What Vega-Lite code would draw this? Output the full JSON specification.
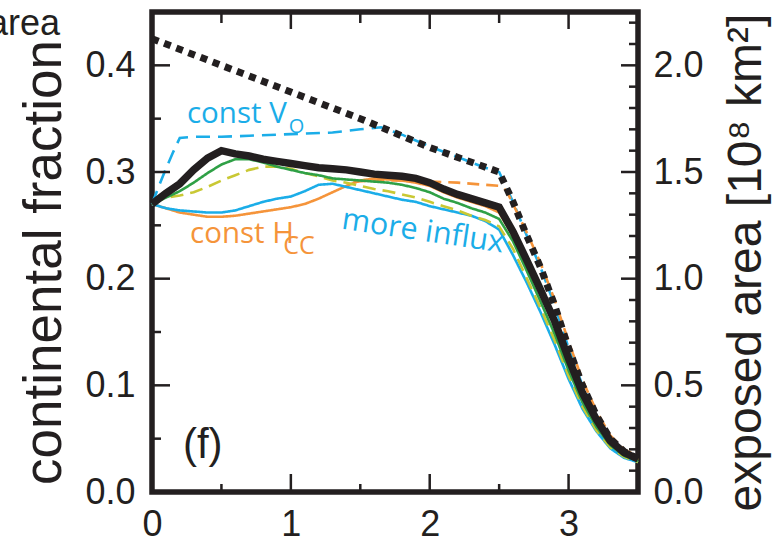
{
  "$schema": "https://vega.github.io/schema/vega-lite/v6.json",
  "width": 486,
  "height": 480,
  "autosize": {"type": "none"},
  "padding": {"left": 152, "top": 12, "right": 143, "bottom": 50},
  "background": "white",
  "config": {
    "view": {"stroke": "#231f20", "strokeWidth": 5.5},
    "axis": {
      "domain": false,
      "grid": false,
      "ticks": false,
      "labelFont": "Liberation Sans",
      "labelFontSize": 36,
      "labelColor": "#231f20",
      "labelFlush": false,
      "labelOverlap": false,
      "titleFont": "Liberation Sans",
      "titleFontWeight": "normal",
      "titleColor": "#231f20"
    }
  },
  "datasets": {
    "lines": [
      {"series": "const Vo", "x": 0, "f": 0.270}, {"series": "const Vo", "x": 0.05, "f": 0.287}, {"series": "const Vo", "x": 0.1, "f": 0.303}, {"series": "const Vo", "x": 0.15, "f": 0.318}, {"series": "const Vo", "x": 0.2, "f": 0.332}, {"series": "const Vo", "x": 0.3, "f": 0.333}, {"series": "const Vo", "x": 0.5, "f": 0.333}, {"series": "const Vo", "x": 0.7, "f": 0.334}, {"series": "const Vo", "x": 0.9, "f": 0.335}, {"series": "const Vo", "x": 1.1, "f": 0.336}, {"series": "const Vo", "x": 1.3, "f": 0.337}, {"series": "const Vo", "x": 1.5, "f": 0.340}, {"series": "const Vo", "x": 1.65, "f": 0.342}, {"series": "const Vo", "x": 1.8, "f": 0.335}, {"series": "const Vo", "x": 2.0, "f": 0.324}, {"series": "const Vo", "x": 2.2, "f": 0.314}, {"series": "const Vo", "x": 2.4, "f": 0.304}, {"series": "const Vo", "x": 2.5, "f": 0.300}, {"series": "const Vo", "x": 2.6, "f": 0.272}, {"series": "const Vo", "x": 2.7, "f": 0.240}, {"series": "const Vo", "x": 2.8, "f": 0.210}, {"series": "const Vo", "x": 2.9, "f": 0.175}, {"series": "const Vo", "x": 3.0, "f": 0.135}, {"series": "const Vo", "x": 3.1, "f": 0.100}, {"series": "const Vo", "x": 3.2, "f": 0.072}, {"series": "const Vo", "x": 3.3, "f": 0.050}, {"series": "const Vo", "x": 3.4, "f": 0.038}, {"series": "const Vo", "x": 3.5, "f": 0.031},

      {"series": "orange dashed", "x": 1.45, "f": 0.291}, {"series": "orange dashed", "x": 1.6, "f": 0.292}, {"series": "orange dashed", "x": 1.8, "f": 0.292}, {"series": "orange dashed", "x": 2.0, "f": 0.291}, {"series": "orange dashed", "x": 2.2, "f": 0.290}, {"series": "orange dashed", "x": 2.4, "f": 0.288}, {"series": "orange dashed", "x": 2.5, "f": 0.287}, {"series": "orange dashed", "x": 2.55, "f": 0.283}, {"series": "orange dashed", "x": 2.6, "f": 0.270}, {"series": "orange dashed", "x": 2.7, "f": 0.243}, {"series": "orange dashed", "x": 2.8, "f": 0.214}, {"series": "orange dashed", "x": 2.9, "f": 0.180}, {"series": "orange dashed", "x": 3.0, "f": 0.141}, {"series": "orange dashed", "x": 3.1, "f": 0.105}, {"series": "orange dashed", "x": 3.2, "f": 0.076}, {"series": "orange dashed", "x": 3.3, "f": 0.053}, {"series": "orange dashed", "x": 3.4, "f": 0.040}, {"series": "orange dashed", "x": 3.5, "f": 0.033},

      {"series": "const Hcc", "x": 0, "f": 0.270}, {"series": "const Hcc", "x": 0.1, "f": 0.266}, {"series": "const Hcc", "x": 0.2, "f": 0.262}, {"series": "const Hcc", "x": 0.3, "f": 0.260}, {"series": "const Hcc", "x": 0.4, "f": 0.258}, {"series": "const Hcc", "x": 0.5, "f": 0.258}, {"series": "const Hcc", "x": 0.6, "f": 0.259}, {"series": "const Hcc", "x": 0.7, "f": 0.261}, {"series": "const Hcc", "x": 0.8, "f": 0.263}, {"series": "const Hcc", "x": 0.9, "f": 0.265}, {"series": "const Hcc", "x": 1.0, "f": 0.267}, {"series": "const Hcc", "x": 1.1, "f": 0.270}, {"series": "const Hcc", "x": 1.2, "f": 0.275}, {"series": "const Hcc", "x": 1.3, "f": 0.281}, {"series": "const Hcc", "x": 1.4, "f": 0.287}, {"series": "const Hcc", "x": 1.5, "f": 0.292}, {"series": "const Hcc", "x": 1.6, "f": 0.294}, {"series": "const Hcc", "x": 1.7, "f": 0.293}, {"series": "const Hcc", "x": 1.8, "f": 0.292}, {"series": "const Hcc", "x": 1.9, "f": 0.290}, {"series": "const Hcc", "x": 2.0, "f": 0.287}, {"series": "const Hcc", "x": 2.1, "f": 0.281}, {"series": "const Hcc", "x": 2.2, "f": 0.276}, {"series": "const Hcc", "x": 2.3, "f": 0.272}, {"series": "const Hcc", "x": 2.4, "f": 0.268}, {"series": "const Hcc", "x": 2.5, "f": 0.262}, {"series": "const Hcc", "x": 2.6, "f": 0.240}, {"series": "const Hcc", "x": 2.7, "f": 0.213}, {"series": "const Hcc", "x": 2.8, "f": 0.185}, {"series": "const Hcc", "x": 2.9, "f": 0.156}, {"series": "const Hcc", "x": 3.0, "f": 0.121}, {"series": "const Hcc", "x": 3.1, "f": 0.090}, {"series": "const Hcc", "x": 3.2, "f": 0.065}, {"series": "const Hcc", "x": 3.3, "f": 0.046}, {"series": "const Hcc", "x": 3.4, "f": 0.036}, {"series": "const Hcc", "x": 3.5, "f": 0.030},

      {"series": "more influx", "x": 0, "f": 0.270}, {"series": "more influx", "x": 0.1, "f": 0.266}, {"series": "more influx", "x": 0.2, "f": 0.264}, {"series": "more influx", "x": 0.3, "f": 0.263}, {"series": "more influx", "x": 0.4, "f": 0.262}, {"series": "more influx", "x": 0.5, "f": 0.262}, {"series": "more influx", "x": 0.6, "f": 0.264}, {"series": "more influx", "x": 0.7, "f": 0.268}, {"series": "more influx", "x": 0.8, "f": 0.272}, {"series": "more influx", "x": 0.9, "f": 0.275}, {"series": "more influx", "x": 1.0, "f": 0.277}, {"series": "more influx", "x": 1.1, "f": 0.282}, {"series": "more influx", "x": 1.2, "f": 0.288}, {"series": "more influx", "x": 1.3, "f": 0.289}, {"series": "more influx", "x": 1.4, "f": 0.286}, {"series": "more influx", "x": 1.5, "f": 0.283}, {"series": "more influx", "x": 1.6, "f": 0.280}, {"series": "more influx", "x": 1.7, "f": 0.277}, {"series": "more influx", "x": 1.8, "f": 0.274}, {"series": "more influx", "x": 1.9, "f": 0.272}, {"series": "more influx", "x": 2.0, "f": 0.268}, {"series": "more influx", "x": 2.1, "f": 0.265}, {"series": "more influx", "x": 2.2, "f": 0.262}, {"series": "more influx", "x": 2.3, "f": 0.259}, {"series": "more influx", "x": 2.4, "f": 0.254}, {"series": "more influx", "x": 2.5, "f": 0.246}, {"series": "more influx", "x": 2.6, "f": 0.222}, {"series": "more influx", "x": 2.7, "f": 0.196}, {"series": "more influx", "x": 2.8, "f": 0.168}, {"series": "more influx", "x": 2.9, "f": 0.138}, {"series": "more influx", "x": 3.0, "f": 0.106}, {"series": "more influx", "x": 3.1, "f": 0.078}, {"series": "more influx", "x": 3.2, "f": 0.057}, {"series": "more influx", "x": 3.3, "f": 0.041}, {"series": "more influx", "x": 3.4, "f": 0.032}, {"series": "more influx", "x": 3.5, "f": 0.028},

      {"series": "yellow dashed", "x": 0, "f": 0.270}, {"series": "yellow dashed", "x": 0.1, "f": 0.276}, {"series": "yellow dashed", "x": 0.2, "f": 0.278}, {"series": "yellow dashed", "x": 0.3, "f": 0.281}, {"series": "yellow dashed", "x": 0.4, "f": 0.286}, {"series": "yellow dashed", "x": 0.5, "f": 0.292}, {"series": "yellow dashed", "x": 0.6, "f": 0.297}, {"series": "yellow dashed", "x": 0.7, "f": 0.302}, {"series": "yellow dashed", "x": 0.8, "f": 0.305}, {"series": "yellow dashed", "x": 0.9, "f": 0.305}, {"series": "yellow dashed", "x": 1.0, "f": 0.303}, {"series": "yellow dashed", "x": 1.1, "f": 0.299}, {"series": "yellow dashed", "x": 1.2, "f": 0.296}, {"series": "yellow dashed", "x": 1.3, "f": 0.292}, {"series": "yellow dashed", "x": 1.4, "f": 0.290}, {"series": "yellow dashed", "x": 1.5, "f": 0.287}, {"series": "yellow dashed", "x": 1.6, "f": 0.284}, {"series": "yellow dashed", "x": 1.7, "f": 0.282}, {"series": "yellow dashed", "x": 1.8, "f": 0.279}, {"series": "yellow dashed", "x": 1.9, "f": 0.276}, {"series": "yellow dashed", "x": 2.0, "f": 0.272}, {"series": "yellow dashed", "x": 2.1, "f": 0.268}, {"series": "yellow dashed", "x": 2.2, "f": 0.264}, {"series": "yellow dashed", "x": 2.3, "f": 0.259}, {"series": "yellow dashed", "x": 2.4, "f": 0.255}, {"series": "yellow dashed", "x": 2.5, "f": 0.249}, {"series": "yellow dashed", "x": 2.6, "f": 0.228}, {"series": "yellow dashed", "x": 2.7, "f": 0.200}, {"series": "yellow dashed", "x": 2.8, "f": 0.172}, {"series": "yellow dashed", "x": 2.9, "f": 0.142}, {"series": "yellow dashed", "x": 3.0, "f": 0.109}, {"series": "yellow dashed", "x": 3.1, "f": 0.080}, {"series": "yellow dashed", "x": 3.2, "f": 0.058}, {"series": "yellow dashed", "x": 3.3, "f": 0.042}, {"series": "yellow dashed", "x": 3.4, "f": 0.033}, {"series": "yellow dashed", "x": 3.5, "f": 0.028},

      {"series": "green", "x": 0, "f": 0.270}, {"series": "green", "x": 0.1, "f": 0.276}, {"series": "green", "x": 0.2, "f": 0.282}, {"series": "green", "x": 0.3, "f": 0.290}, {"series": "green", "x": 0.4, "f": 0.299}, {"series": "green", "x": 0.5, "f": 0.307}, {"series": "green", "x": 0.6, "f": 0.312}, {"series": "green", "x": 0.7, "f": 0.312}, {"series": "green", "x": 0.8, "f": 0.309}, {"series": "green", "x": 0.9, "f": 0.305}, {"series": "green", "x": 1.0, "f": 0.302}, {"series": "green", "x": 1.1, "f": 0.299}, {"series": "green", "x": 1.2, "f": 0.297}, {"series": "green", "x": 1.3, "f": 0.294}, {"series": "green", "x": 1.4, "f": 0.293}, {"series": "green", "x": 1.5, "f": 0.292}, {"series": "green", "x": 1.6, "f": 0.291}, {"series": "green", "x": 1.7, "f": 0.290}, {"series": "green", "x": 1.8, "f": 0.288}, {"series": "green", "x": 1.9, "f": 0.285}, {"series": "green", "x": 2.0, "f": 0.281}, {"series": "green", "x": 2.1, "f": 0.275}, {"series": "green", "x": 2.2, "f": 0.271}, {"series": "green", "x": 2.3, "f": 0.266}, {"series": "green", "x": 2.4, "f": 0.262}, {"series": "green", "x": 2.5, "f": 0.256}, {"series": "green", "x": 2.6, "f": 0.235}, {"series": "green", "x": 2.7, "f": 0.207}, {"series": "green", "x": 2.8, "f": 0.178}, {"series": "green", "x": 2.9, "f": 0.148}, {"series": "green", "x": 3.0, "f": 0.114}, {"series": "green", "x": 3.1, "f": 0.084}, {"series": "green", "x": 3.2, "f": 0.061}, {"series": "green", "x": 3.3, "f": 0.044}, {"series": "green", "x": 3.4, "f": 0.034}, {"series": "green", "x": 3.5, "f": 0.029}
    ],
    "baseline": [
      {"x": 0, "f": 0.270}, {"x": 0.1, "f": 0.280}, {"x": 0.2, "f": 0.289}, {"x": 0.3, "f": 0.302}, {"x": 0.4, "f": 0.313}, {"x": 0.5, "f": 0.320}, {"x": 0.6, "f": 0.317}, {"x": 0.7, "f": 0.315}, {"x": 0.8, "f": 0.312}, {"x": 0.9, "f": 0.310}, {"x": 1.0, "f": 0.308}, {"x": 1.1, "f": 0.306}, {"x": 1.2, "f": 0.304}, {"x": 1.3, "f": 0.303}, {"x": 1.4, "f": 0.302}, {"x": 1.5, "f": 0.300}, {"x": 1.6, "f": 0.298}, {"x": 1.7, "f": 0.297}, {"x": 1.8, "f": 0.296}, {"x": 1.9, "f": 0.294}, {"x": 2.0, "f": 0.290}, {"x": 2.1, "f": 0.284}, {"x": 2.2, "f": 0.279}, {"x": 2.3, "f": 0.275}, {"x": 2.4, "f": 0.271}, {"x": 2.5, "f": 0.267}, {"x": 2.6, "f": 0.244}, {"x": 2.7, "f": 0.217}, {"x": 2.8, "f": 0.189}, {"x": 2.9, "f": 0.160}, {"x": 3.0, "f": 0.125}, {"x": 3.1, "f": 0.093}, {"x": 3.2, "f": 0.068}, {"x": 3.3, "f": 0.048}, {"x": 3.4, "f": 0.037}, {"x": 3.5, "f": 0.031}
    ],
    "area": [
      {"x": 0, "area": 2.125}, {"x": 0.5, "area": 2.0}, {"x": 1.0, "area": 1.875}, {"x": 1.5, "area": 1.75}, {"x": 2.0, "area": 1.615}, {"x": 2.5, "area": 1.5}, {"x": 2.6, "area": 1.36}, {"x": 2.7, "area": 1.2}, {"x": 2.8, "area": 1.05}, {"x": 2.9, "area": 0.875}, {"x": 3.0, "area": 0.675}, {"x": 3.1, "area": 0.5}, {"x": 3.2, "area": 0.36}, {"x": 3.3, "area": 0.25}, {"x": 3.4, "area": 0.19}, {"x": 3.5, "area": 0.155}
    ]
  },
  "resolve": {
    "scale": {"x": "independent", "y": "independent"},
    "axis": {"x": "independent", "y": "independent"}
  },
  "layer": [
    {
      "data": {"name": "lines"},
      "mark": {"type": "line", "strokeWidth": 2.6, "strokeCap": "butt"},
      "encoding": {
        "x": {"field": "x", "type": "quantitative", "scale": {"domain": [0, 3.5], "nice": false, "zero": false},
          "axis": {"orient": "bottom", "values": [0, 1, 2, 3], "labelPadding": 15, "format": "d", "title": null}},
        "y": {"field": "f", "type": "quantitative", "scale": {"domain": [0, 0.45], "nice": false},
          "axis": {"orient": "left", "values": [0, 0.1, 0.2, 0.3, 0.4], "labelPadding": 17, "format": ".1f",
            "title": "continental fraction", "titleAngle": 270, "titleX": -92, "titleY": 250, "titleBaseline": "alphabetic", "titleAlign": "center", "titleFontSize": 53}},
        "color": {"field": "series", "type": "nominal", "legend": null,
          "scale": {"domain": ["const Vo", "orange dashed", "const Hcc", "more influx", "yellow dashed", "green"],
            "range": ["#1badE8", "#F5943A", "#F5943A", "#1badE8", "#C9C834", "#2FA046"]}},
        "strokeDash": {"field": "series", "type": "nominal", "legend": null,
          "scale": {"domain": ["const Vo", "orange dashed", "const Hcc", "more influx", "yellow dashed", "green"],
            "range": [[14, 8], [12, 7], [1, 0], [1, 0], [13, 7], [1, 0]]}}
      }
    },
    {
      "data": {"name": "baseline"},
      "mark": {"type": "line", "strokeWidth": 7.5, "color": "#231f20"},
      "encoding": {
        "x": {"field": "x", "type": "quantitative", "scale": {"domain": [0, 3.5], "nice": false, "zero": false}, "axis": null},
        "y": {"field": "f", "type": "quantitative", "scale": {"domain": [0, 0.45], "nice": false}, "axis": null}
      }
    },
    {
      "data": {"name": "area"},
      "mark": {"type": "line", "strokeWidth": 7, "strokeDash": [7, 6], "strokeCap": "butt", "color": "#231f20"},
      "encoding": {
        "x": {"field": "x", "type": "quantitative", "scale": {"domain": [0, 3.5], "nice": false, "zero": false}, "axis": null},
        "y": {"field": "area", "type": "quantitative", "scale": {"domain": [0, 2.25], "nice": false},
          "axis": {"orient": "right", "values": [0, 0.5, 1, 1.5, 2], "labelPadding": 15, "format": ".1f",
            "title": "exposed area [10⁸ km²]", "titleAngle": 270, "titleX": 122, "titleY": 250, "titleBaseline": "alphabetic", "titleAlign": "center", "titleFontSize": 48}}
      }
    },
    {
      "data": {"values": [{"v": 0.1, "end": 0}, {"v": 0.1, "end": 1}, {"v": 0.2, "end": 0}, {"v": 0.2, "end": 1}, {"v": 0.3, "end": 0}, {"v": 0.3, "end": 1}, {"v": 0.4, "end": 0}, {"v": 0.4, "end": 1}]},
      "mark": {"type": "line", "strokeWidth": 2.5, "color": "#231f20", "strokeCap": "butt"},
      "encoding": {
        "x": {"field": "end", "type": "quantitative", "scale": {"domain": [0, 1], "range": [0, 18], "nice": false, "zero": false}, "axis": null},
        "y": {"field": "v", "type": "quantitative", "scale": {"domain": [0, 0.45], "nice": false}, "axis": null},
        "detail": {"field": "v", "type": "nominal"}
      }
    },
    {
      "data": {"values": [{"v": 0.05, "end": 0}, {"v": 0.05, "end": 1}, {"v": 0.15, "end": 0}, {"v": 0.15, "end": 1}, {"v": 0.25, "end": 0}, {"v": 0.25, "end": 1}, {"v": 0.35, "end": 0}, {"v": 0.35, "end": 1}]},
      "mark": {"type": "line", "strokeWidth": 2.5, "color": "#231f20", "strokeCap": "butt"},
      "encoding": {
        "x": {"field": "end", "type": "quantitative", "scale": {"domain": [0, 1], "range": [0, 9], "nice": false, "zero": false}, "axis": null},
        "y": {"field": "v", "type": "quantitative", "scale": {"domain": [0, 0.45], "nice": false}, "axis": null},
        "detail": {"field": "v", "type": "nominal"}
      }
    },
    {
      "data": {"values": [{"v": 0.5, "end": 0}, {"v": 0.5, "end": 1}, {"v": 1.0, "end": 0}, {"v": 1.0, "end": 1}, {"v": 1.5, "end": 0}, {"v": 1.5, "end": 1}, {"v": 2.0, "end": 0}, {"v": 2.0, "end": 1}]},
      "mark": {"type": "line", "strokeWidth": 2.5, "color": "#231f20", "strokeCap": "butt"},
      "encoding": {
        "x": {"field": "end", "type": "quantitative", "scale": {"domain": [0, 1], "range": [486, 469], "nice": false, "zero": false}, "axis": null},
        "y": {"field": "v", "type": "quantitative", "scale": {"domain": [0, 2.25], "nice": false}, "axis": null},
        "detail": {"field": "v", "type": "nominal"}
      }
    },
    {
      "data": {"values": [
        {"v": 0.1, "end": 0}, {"v": 0.1, "end": 1}, {"v": 0.2, "end": 0}, {"v": 0.2, "end": 1}, {"v": 0.3, "end": 0}, {"v": 0.3, "end": 1}, {"v": 0.4, "end": 0}, {"v": 0.4, "end": 1},
        {"v": 0.6, "end": 0}, {"v": 0.6, "end": 1}, {"v": 0.7, "end": 0}, {"v": 0.7, "end": 1}, {"v": 0.8, "end": 0}, {"v": 0.8, "end": 1}, {"v": 0.9, "end": 0}, {"v": 0.9, "end": 1},
        {"v": 1.1, "end": 0}, {"v": 1.1, "end": 1}, {"v": 1.2, "end": 0}, {"v": 1.2, "end": 1}, {"v": 1.3, "end": 0}, {"v": 1.3, "end": 1}, {"v": 1.4, "end": 0}, {"v": 1.4, "end": 1},
        {"v": 1.6, "end": 0}, {"v": 1.6, "end": 1}, {"v": 1.7, "end": 0}, {"v": 1.7, "end": 1}, {"v": 1.8, "end": 0}, {"v": 1.8, "end": 1}, {"v": 1.9, "end": 0}, {"v": 1.9, "end": 1},
        {"v": 2.1, "end": 0}, {"v": 2.1, "end": 1}, {"v": 2.2, "end": 0}, {"v": 2.2, "end": 1}
      ]},
      "mark": {"type": "line", "strokeWidth": 2.5, "color": "#231f20", "strokeCap": "butt"},
      "encoding": {
        "x": {"field": "end", "type": "quantitative", "scale": {"domain": [0, 1], "range": [486, 477], "nice": false, "zero": false}, "axis": null},
        "y": {"field": "v", "type": "quantitative", "scale": {"domain": [0, 2.25], "nice": false}, "axis": null},
        "detail": {"field": "v", "type": "nominal"}
      }
    },
    {
      "data": {"values": [{"v": 1, "end": 0}, {"v": 1, "end": 1}, {"v": 2, "end": 0}, {"v": 2, "end": 1}, {"v": 3, "end": 0}, {"v": 3, "end": 1}]},
      "mark": {"type": "line", "strokeWidth": 2.5, "color": "#231f20", "strokeCap": "butt"},
      "encoding": {
        "x": {"field": "v", "type": "quantitative", "scale": {"domain": [0, 3.5], "nice": false, "zero": false}, "axis": null},
        "y": {"field": "end", "type": "quantitative", "scale": {"domain": [0, 1], "range": [480, 462], "nice": false, "zero": false}, "axis": null},
        "detail": {"field": "v", "type": "nominal"}
      }
    },
    {
      "data": {"values": [{"v": 0.5, "end": 0}, {"v": 0.5, "end": 1}, {"v": 1.5, "end": 0}, {"v": 1.5, "end": 1}, {"v": 2.5, "end": 0}, {"v": 2.5, "end": 1}]},
      "mark": {"type": "line", "strokeWidth": 2.5, "color": "#231f20", "strokeCap": "butt"},
      "encoding": {
        "x": {"field": "v", "type": "quantitative", "scale": {"domain": [0, 3.5], "nice": false, "zero": false}, "axis": null},
        "y": {"field": "end", "type": "quantitative", "scale": {"domain": [0, 1], "range": [480, 472], "nice": false, "zero": false}, "axis": null},
        "detail": {"field": "v", "type": "nominal"}
      }
    },
    {
      "data": {"values": [{"v": 1, "end": 0}, {"v": 1, "end": 1}, {"v": 2, "end": 0}, {"v": 2, "end": 1}, {"v": 3, "end": 0}, {"v": 3, "end": 1}]},
      "mark": {"type": "line", "strokeWidth": 2.5, "color": "#231f20", "strokeCap": "butt"},
      "encoding": {
        "x": {"field": "v", "type": "quantitative", "scale": {"domain": [0, 3.5], "nice": false, "zero": false}, "axis": null},
        "y": {"field": "end", "type": "quantitative", "scale": {"domain": [0, 1], "range": [0, 17], "nice": false, "zero": false}, "axis": null},
        "detail": {"field": "v", "type": "nominal"}
      }
    },
    {
      "data": {"values": [{"v": 0.5, "end": 0}, {"v": 0.5, "end": 1}, {"v": 1.5, "end": 0}, {"v": 1.5, "end": 1}, {"v": 2.5, "end": 0}, {"v": 2.5, "end": 1}]},
      "mark": {"type": "line", "strokeWidth": 2.5, "color": "#231f20", "strokeCap": "butt"},
      "encoding": {
        "x": {"field": "v", "type": "quantitative", "scale": {"domain": [0, 3.5], "nice": false, "zero": false}, "axis": null},
        "y": {"field": "end", "type": "quantitative", "scale": {"domain": [0, 1], "range": [0, 11], "nice": false, "zero": false}, "axis": null},
        "detail": {"field": "v", "type": "nominal"}
      }
    },
    {
      "encoding": {
        "x": {"field": "x", "type": "quantitative", "scale": {"domain": [0, 3.5], "nice": false, "zero": false}, "axis": null},
        "y": {"field": "f", "type": "quantitative", "scale": {"domain": [0, 0.45], "nice": false}, "axis": null},
        "text": {"field": "label"}
      },
      "layer": [
        {"data": {"values": [{"label": "const V", "x": 0.252, "f": 0.346}]},
          "mark": {"type": "text", "align": "left", "baseline": "alphabetic", "font": "Open Sans", "fontSize": 29.5, "color": "#1badE8", "clip": false}},
        {"data": {"values": [{"label": "O", "x": 0.985, "f": 0.3366}]},
          "mark": {"type": "text", "align": "left", "baseline": "alphabetic", "font": "Open Sans", "fontSize": 20, "color": "#1badE8", "clip": false}},
        {"data": {"values": [{"label": "const H", "x": 0.274, "f": 0.2337}]},
          "mark": {"type": "text", "align": "left", "baseline": "alphabetic", "font": "Open Sans", "fontSize": 29.5, "color": "#F5943A", "clip": false}},
        {"data": {"values": [{"label": "CC", "x": 0.945, "f": 0.223}]},
          "mark": {"type": "text", "align": "left", "baseline": "alphabetic", "font": "Open Sans", "fontSize": 25, "color": "#F5943A", "clip": false}},
        {"data": {"values": [{"label": "more influx", "x": 1.36, "f": 0.247}]},
          "mark": {"type": "text", "align": "left", "baseline": "alphabetic", "font": "Open Sans", "fontSize": 30.5, "angle": 8.5, "color": "#1badE8", "clip": false}},
        {"data": {"values": [{"label": "(f)", "x": 0.223, "f": 0.032}]},
          "mark": {"type": "text", "align": "left", "baseline": "alphabetic", "font": "Liberation Sans", "fontSize": 42, "color": "#231f20", "clip": false}},
        {"data": {"values": [{"label": "area", "x": -0.6625, "f": 0.428}]},
          "mark": {"type": "text", "align": "right", "baseline": "alphabetic", "font": "Liberation Sans", "fontSize": 36, "color": "#231f20", "clip": false}}
      ]
    }
  ]
}
